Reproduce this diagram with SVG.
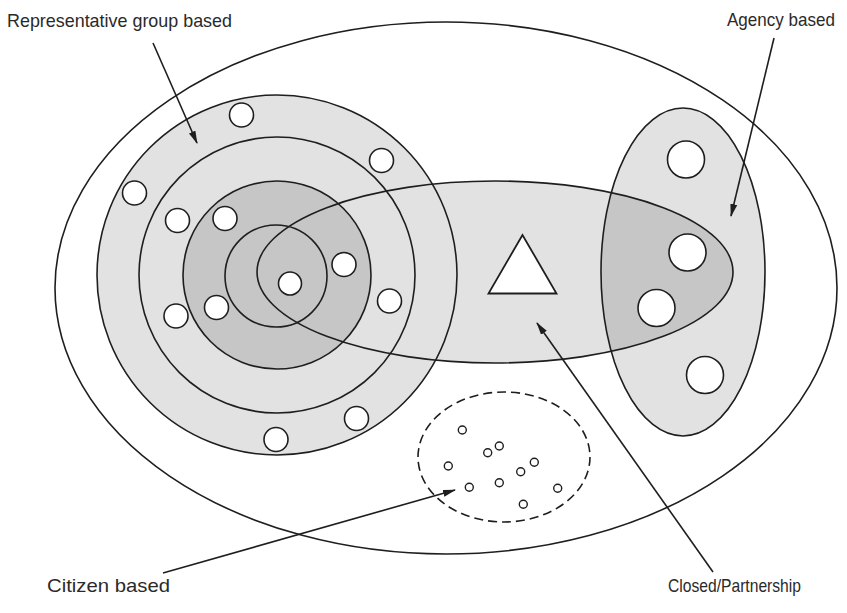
<svg xmlns="http://www.w3.org/2000/svg" width="847" height="613" viewBox="0 0 847 613">
<style>
.ln{stroke:#1e1e1e;stroke-width:1.6;fill:none}
.lg{fill:#e2e2e2}
.dg{fill:#c6c6c6}
.dot{fill:#fff;stroke:#1e1e1e;stroke-width:1.6}
.sm{fill:#fff;stroke:#1e1e1e;stroke-width:1.4}
.lbl{font-family:"Liberation Sans",Arial,sans-serif;font-size:19px;fill:#2a2a2a}
.arr{stroke:#1e1e1e;stroke-width:1.6;fill:none;marker-end:url(#ah)}
</style>
<defs>
<marker id="ah" markerWidth="13" markerHeight="8" refX="12" refY="4" orient="auto" markerUnits="userSpaceOnUse">
<path d="M0,0.5 L13,4 L0,7.5 Z" fill="#1e1e1e"/>
</marker>
<clipPath id="agClip"><ellipse cx="683" cy="272" rx="82" ry="164"/></clipPath>
</defs>
<rect width="847" height="613" fill="#fff"/>
<g id="scope">
<ellipse cx="446" cy="288" rx="391" ry="266" fill="#fff" stroke="#1e1e1e" stroke-width="1.6"/>
</g>
<g id="closed-partnership-fill">
<ellipse cx="495" cy="272" rx="238" ry="91" class="lg"/>
</g>
<g id="representative-group">
<circle cx="277" cy="275" r="180" class="lg"/>
<circle cx="277" cy="275" r="180" class="ln"/>
<circle cx="277" cy="275" r="138" class="ln"/>
<circle cx="277" cy="275" r="94" class="dg"/>
<circle cx="277" cy="275" r="94" class="ln"/>
<circle cx="276" cy="276" r="51" class="ln"/>
</g>
<g id="agency">
<ellipse cx="683" cy="272" rx="82" ry="164" class="lg"/>
<ellipse cx="495" cy="272" rx="238" ry="91" class="dg" clip-path="url(#agClip)"/>
<ellipse cx="683" cy="272" rx="82" ry="164" class="ln"/>
</g>
<g id="closed-partnership">
<ellipse cx="495" cy="272" rx="238" ry="91" class="ln"/>
<polygon points="522.5,235 488.5,293.5 556.5,293.5" fill="#fff" stroke="#1e1e1e" stroke-width="1.8"/>
</g>
<g id="representative-members">
<circle cx="241.5" cy="115" r="12" class="dot"/>
<circle cx="381.5" cy="160.5" r="12" class="dot"/>
<circle cx="134.5" cy="193" r="12" class="dot"/>
<circle cx="177.5" cy="220.5" r="12" class="dot"/>
<circle cx="225" cy="218.5" r="12" class="dot"/>
<circle cx="344" cy="264.5" r="12" class="dot"/>
<circle cx="290" cy="283.5" r="11.5" class="dot"/>
<circle cx="389.5" cy="301" r="12" class="dot"/>
<circle cx="176" cy="316" r="12" class="dot"/>
<circle cx="216.5" cy="307.5" r="12" class="dot"/>
<circle cx="356.5" cy="418.5" r="12" class="dot"/>
<circle cx="276" cy="439.5" r="12" class="dot"/>
</g>
<g id="agency-members">
<circle cx="686" cy="159.5" r="18.5" class="dot"/>
<circle cx="687.5" cy="252.5" r="18.5" class="dot"/>
<circle cx="656.5" cy="308" r="18.5" class="dot"/>
<circle cx="705" cy="375" r="18.5" class="dot"/>
</g>
<g id="citizen">
<ellipse cx="504" cy="457" rx="86" ry="65" fill="none" stroke="#1e1e1e" stroke-width="1.6" stroke-dasharray="9,5"/>
<circle cx="462.3" cy="430" r="4" class="sm"/>
<circle cx="487.7" cy="452.7" r="4" class="sm"/>
<circle cx="499.3" cy="446" r="4" class="sm"/>
<circle cx="448.3" cy="466" r="4" class="sm"/>
<circle cx="534.3" cy="462.3" r="4" class="sm"/>
<circle cx="520.7" cy="471.7" r="4" class="sm"/>
<circle cx="469.3" cy="487.3" r="4" class="sm"/>
<circle cx="499.3" cy="482.7" r="4" class="sm"/>
<circle cx="557.7" cy="488.3" r="4" class="sm"/>
<circle cx="523.3" cy="504.3" r="4" class="sm"/>
</g>
<g id="connectors">
<line x1="153" y1="43" x2="197" y2="143" class="arr"/>
<line x1="774" y1="38" x2="731" y2="216" class="arr"/>
<line x1="163" y1="573" x2="455" y2="490" class="arr"/>
<line x1="713" y1="572" x2="537" y2="323" class="arr"/>
</g>
<g id="labels">
<text class="lbl" x="7" y="27" textLength="225" lengthAdjust="spacingAndGlyphs">Representative group based</text>
<text class="lbl" x="727" y="26" textLength="108" lengthAdjust="spacingAndGlyphs">Agency based</text>
<text class="lbl" x="47" y="592" textLength="123" lengthAdjust="spacingAndGlyphs">Citizen based</text>
<text class="lbl" x="668" y="592" textLength="133" lengthAdjust="spacingAndGlyphs">Closed/Partnership</text>
</g>
</svg>
